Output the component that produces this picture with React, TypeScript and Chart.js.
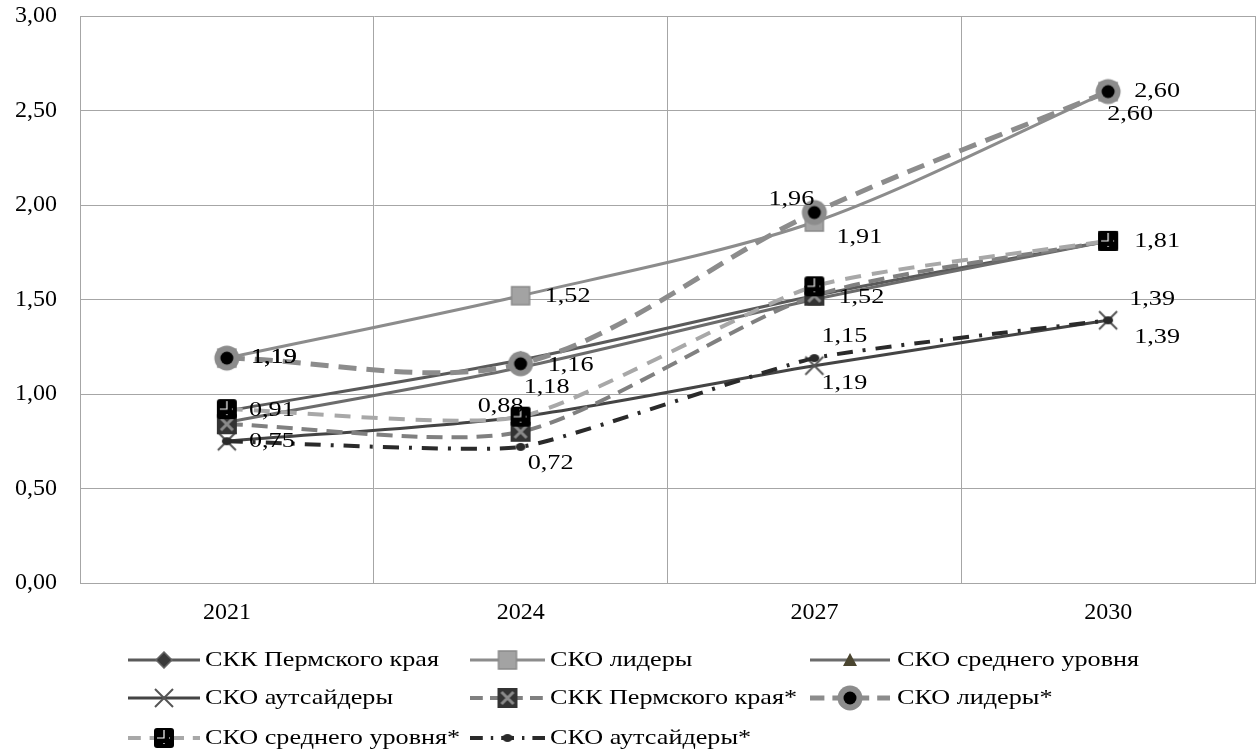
import React, { useEffect, useRef } from "react";
import { Chart, registerables } from "chart.js";

Chart.register(...registerables);

const categories = ["2021", "2024", "2027", "2030"];
const seriesNames = [
  "СКК Пермского края",
  "СКО лидеры",
  "СКО среднего уровня",
  "СКО аутсайдеры",
  "СКК Пермского края*",
  "СКО лидеры*",
  "СКО среднего уровня*",
  "СКО аутсайдеры*",
];
const kkPerm = [0.91, 1.18, 1.52, 1.81];
const leaders = [1.19, 1.52, 1.91, 2.6];
const middle = [0.85, 1.14, 1.5, 1.81];
const outsiders = [0.75, 0.88, 1.15, 1.39];
const kkPermStar = [0.84, 0.8, 1.52, 1.81];
const leadersStar = [1.19, 1.16, 1.96, 2.6];
const middleStar = [0.92, 0.88, 1.57, 1.81];
const outsidersStar = [0.75, 0.72, 1.19, 1.39];
const yTicks = [0, 0.5, 1, 1.5, 2, 2.5, 3];

const seriesValues = [kkPerm, leaders, middle, outsiders, kkPermStar, leadersStar, middleStar, outsidersStar];

// label placement: [datasetIndex, pointIndex, dx, dy]
const labelPlacement: [number, number, number, number][] = [
  [1, 0, 47, -1], [5, 0, 47, -1], [0, 0, 45, -1], [3, 0, 45, 0],
  [1, 1, 47, 0], [5, 1, 50, 1], [0, 1, 26, 27], [3, 1, -20, -10], [7, 1, 30, 16],
  [5, 2, -23, -13], [1, 2, 45, 15], [0, 2, 47, 1], [3, 2, 30, -29], [7, 2, 30, 25],
  [5, 3, 49, 0], [1, 3, 22, 23], [0, 3, 49, 0], [3, 3, 44, -21], [7, 3, 49, 17],
];

const FONT = "'Liberation Serif', 'Times New Roman', serif";
const STRETCH = 1.19;

function mk(size: number, draw: (c: CanvasRenderingContext2D, s: number) => void) {
  const cv = document.createElement("canvas");
  cv.width = size;
  cv.height = size;
  const c = cv.getContext("2d")!;
  draw(c, size);
  return cv;
}

function makeMarkers() {
  const diamond = mk(18, (c, s) => {
    c.beginPath();
    c.moveTo(s / 2, 1); c.lineTo(s - 1, s / 2); c.lineTo(s / 2, s - 1); c.lineTo(1, s / 2); c.closePath();
    c.fillStyle = "#3a3a3a"; c.fill();
    c.strokeStyle = "#666"; c.lineWidth = 1.5; c.stroke();
  });
  const square = mk(22, (c, s) => {
    c.fillStyle = "#a3a3a3"; c.fillRect(2, 2, s - 4, s - 4);
    c.strokeStyle = "#8a8a8a"; c.lineWidth = 1.5; c.strokeRect(2, 2, s - 4, s - 4);
  });
  const tri = mk(18, (c, s) => {
    c.beginPath();
    c.moveTo(s / 2, 2); c.lineTo(s - 2, s - 3); c.lineTo(2, s - 3); c.closePath();
    c.fillStyle = "#4a4530"; c.fill();
  });
  const cross = mk(24, (c, s) => {
    c.strokeStyle = "#555"; c.lineWidth = 2;
    c.beginPath();
    c.moveTo(3, 3); c.lineTo(s - 3, s - 3); c.moveTo(s - 3, 3); c.lineTo(3, s - 3);
    c.stroke();
  });
  const boxX = mk(22, (c, s) => {
    c.fillStyle = "#333"; c.fillRect(1, 1, s - 2, s - 2);
    c.strokeStyle = "#8a8a8a"; c.lineWidth = 3;
    c.beginPath();
    c.moveTo(5, 5); c.lineTo(s - 5, s - 5); c.moveTo(s - 5, 5); c.lineTo(5, s - 5);
    c.stroke();
  });
  const ring = mk(28, (c, s) => {
    c.beginPath(); c.arc(s / 2, s / 2, 12.5, 0, Math.PI * 2);
    c.fillStyle = "#8c8c8c"; c.fill();
    c.beginPath(); c.arc(s / 2, s / 2, 6.5, 0, Math.PI * 2);
    c.fillStyle = "#000"; c.fill();
  });
  const blackSq = mk(22, (c, s) => {
    c.fillStyle = "#000";
    c.beginPath();
    (c as any).roundRect ? (c as any).roundRect(1, 1, s - 2, s - 2, 3) : c.rect(1, 1, s - 2, s - 2);
    c.fill();
    c.strokeStyle = "#fff"; c.lineWidth = 1.2;
    c.beginPath();
    c.moveTo(11, 3); c.lineTo(11, 11); c.lineTo(4, 11);
    c.moveTo(16, 11); c.lineTo(17, 11);
    c.moveTo(11, 16); c.lineTo(11, 17);
    c.stroke();
  });
  const dot = mk(12, (c, s) => {
    c.beginPath(); c.ellipse(s / 2, s / 2, 5, 4, 0, 0, Math.PI * 2);
    c.fillStyle = "#2a2a2a"; c.fill();
  });
  return [diamond, square, tri, cross, boxX, ring, blackSq, dot];
}

const lineStyles = [
  { color: "#5a5a5a", width: 3, dash: [] as number[], tension: 0.3 },
  { color: "#8c8c8c", width: 3, dash: [] as number[], tension: 0.3 },
  { color: "#6c6c6c", width: 3, dash: [] as number[], tension: 0.3 },
  { color: "#444444", width: 3, dash: [] as number[], tension: 0.3 },
  { color: "#808080", width: 4, dash: [16, 9], tension: 0.25 },
  { color: "#8c8c8c", width: 5, dash: [18, 10], tension: 0.33 },
  { color: "#a8a8a8", width: 4, dash: [16, 11], tension: 0.2 },
  { color: "#2a2a2a", width: 4, dash: [16, 10, 3, 10], tension: 0.15 },
];

function stretchedText(ctx: CanvasRenderingContext2D, text: string, x: number, y: number, align: CanvasTextAlign) {
  ctx.save();
  ctx.translate(x, y);
  ctx.scale(STRETCH, 1);
  ctx.textAlign = align;
  ctx.fillText(text, 0, 0);
  ctx.restore();
}

export default function App() {
  const ref = useRef<HTMLCanvasElement>(null);
  useEffect(() => {
    const canvas = ref.current!;
    const markers = makeMarkers();

    const labelsPlugin = {
      id: "valueLabels",
      afterDatasetsDraw(chart: any) {
        const ctx = chart.ctx;
        ctx.save();
        ctx.font = `22px ${FONT}`;
        ctx.fillStyle = "#000";
        ctx.textBaseline = "middle";
        for (const [ds, i, dx, dy] of labelPlacement) {
          const el = chart.getDatasetMeta(ds).data[i];
          const v = seriesValues[ds][i];
          stretchedText(ctx, v.toFixed(2).replace(".", ","), el.x + dx, el.y + dy, "center");
        }
        ctx.restore();
      },
    };

    const legendPlugin = {
      id: "customLegend",
      afterDraw(chart: any) {
        const ctx = chart.ctx;
        const lineX0 = [128, 470, 810];
        const lineX1 = [200, 545, 890];
        const textX = [205, 550, 897];
        const rowY = [660, 698, 738];
        ctx.save();
        seriesNames.forEach((name, k) => {
          const r = Math.floor(k / 3);
          const col = k % 3;
          const y = rowY[r];
          const st = lineStyles[k];
          ctx.strokeStyle = st.color;
          ctx.lineWidth = st.width;
          ctx.setLineDash(st.dash.length ? st.dash.map((d) => d * 0.8) : []);
          ctx.beginPath();
          ctx.moveTo(lineX0[col], y);
          ctx.lineTo(lineX1[col], y);
          ctx.stroke();
          ctx.setLineDash([]);
          const m = markers[k];
          const mx = (lineX0[col] + lineX1[col]) / 2;
          ctx.drawImage(m, mx - m.width / 2, y - m.height / 2);
          ctx.font = `22px ${FONT}`;
          ctx.fillStyle = "#000";
          ctx.textBaseline = "middle";
          stretchedText(ctx, name, textX[col], y, "left");
        });
        ctx.restore();
      },
    };

    const datasets = seriesNames.map((name, k) => ({
      label: name,
      data: seriesValues[k],
      borderColor: lineStyles[k].color,
      borderWidth: lineStyles[k].width,
      borderDash: lineStyles[k].dash,
      backgroundColor: lineStyles[k].color,
      pointStyle: markers[k] as any,
      pointRadius: 1,
      pointHoverRadius: 0,
      pointBorderWidth: 0,
      pointHitRadius: 0,
      tension: lineStyles[k].tension,
      fill: false,
      clip: false as any,
      order: 8 - k,
    }));

    const chart = new Chart(canvas, {
      type: "line",
      data: { labels: categories, datasets },
      options: {
        animation: false,
        responsive: false,
        devicePixelRatio: 1,
        layout: { padding: { top: 16, right: 3, left: 0, bottom: 0 } },
        plugins: { legend: { display: false }, tooltip: { enabled: false } },
        scales: {
          x: {
            offset: true,
            grid: { offset: true, color: "#a6a6a6", lineWidth: 1, drawTicks: false },
            border: { color: "#a6a6a6" },
            ticks: { color: "#000", font: { family: FONT, size: 24 }, padding: 15 },
            afterFit: (s: any) => { s.height = 171; s.paddingLeft = 0; s.paddingRight = 0; },
          },
          y: {
            min: 0,
            max: 3,
            afterBuildTicks: (s: any) => { s.ticks = yTicks.map((v) => ({ value: v })); },
            grid: { color: "#a6a6a6", lineWidth: 1, drawTicks: false },
            border: { color: "#a6a6a6" },
            ticks: {
              color: "#000",
              font: { family: FONT, size: 24 },
              padding: 23,
              callback: (v: any) => Number(v).toFixed(2).replace(".", ","),
            },
            afterFit: (s: any) => { s.width = 80; s.paddingTop = 0; s.paddingBottom = 0; },
          },
        },
      },
      plugins: [labelsPlugin, legendPlugin],
    });
    return () => chart.destroy();
  }, []);

  return (
    <div style={{ position: "absolute", left: 0, top: 0, width: 1258, height: 754, background: "#fff" }}>
      <canvas ref={ref} width={1258} height={754} style={{ display: "block" }} />
    </div>
  );
}
